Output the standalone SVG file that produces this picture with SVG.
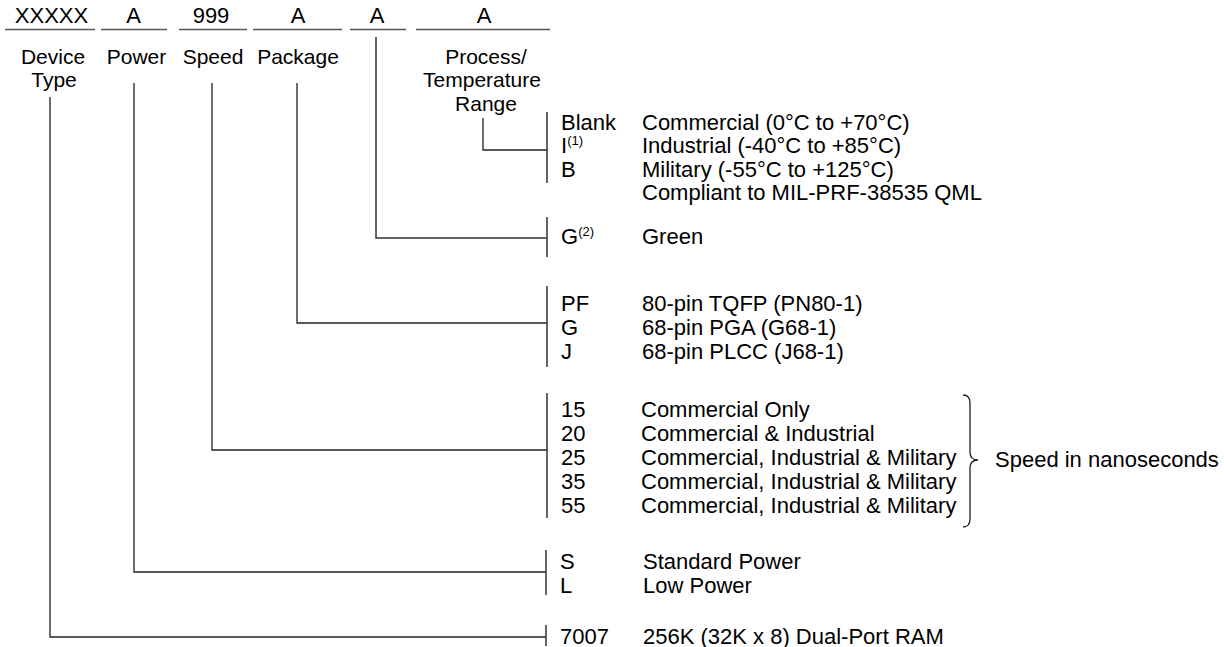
<svg xmlns="http://www.w3.org/2000/svg" width="1224" height="647" viewBox="0 0 1224 647">
<style>
text{font-family:"Liberation Sans",Arial,sans-serif;font-size:22px;fill:#000}
.c{text-anchor:middle}
.lb{font-size:21px}
.sup{font-size:13px}
.ul{stroke:#555;stroke-width:1.6;fill:none}
.ln{stroke:#222;stroke-width:1.3;fill:none}
.bar{stroke:#333;stroke-width:1.5;fill:none}
</style>
<rect width="1224" height="647" fill="#fff"/>
<g id="header">
<line class="ul" x1="5" y1="29.5" x2="95" y2="29.5"/>
<line class="ul" x1="101" y1="29.5" x2="167" y2="29.5"/>
<line class="ul" x1="179" y1="29.5" x2="247" y2="29.5"/>
<line class="ul" x1="253" y1="29.5" x2="342" y2="29.5"/>
<line class="ul" x1="350" y1="29.5" x2="406" y2="29.5"/>
<line class="ul" x1="416" y1="29.5" x2="550" y2="29.5"/>
<text class="c" x="51.5" y="23">XXXXX</text>
<text class="c" x="133.5" y="23">A</text>
<text class="c" x="211" y="23">999</text>
<text class="c" x="298" y="23">A</text>
<text class="c" x="377" y="23">A</text>
<text class="c" x="484" y="23">A</text>
</g>
<g id="label-device"><text class="c lb" x="53" y="63.5">Device</text><text class="c lb" x="54" y="87">Type</text></g>
<g id="label-power"><text class="c lb" x="136.5" y="63.5">Power</text></g>
<g id="label-speed"><text class="c lb" x="213" y="63.5">Speed</text></g>
<g id="label-package"><text class="c lb" x="298" y="63.5">Package</text></g>
<g id="label-process"><text class="c lb" x="486" y="63.5">Process/</text><text class="c lb" x="482" y="87">Temperature</text><text class="c lb" x="486" y="110.5">Range</text></g>
<g id="connectors">
<polyline class="ln" points="483,118 483,150 547,150"/>
<polyline class="bar" points="376,37 376,238 547,238"/>
<polyline class="ln" points="297,83 297,323 547,323"/>
<polyline class="ln" points="212,83 212,450 547,450"/>
<polyline class="ln" points="134,83 134,572 546,572"/>
<polyline class="ln" points="50,97 50,637 546,637"/>
</g>
<g id="opt-process">
<line class="bar" x1="547" y1="112" x2="547" y2="183"/>
<text x="561" y="130">Blank</text>
<text x="561" y="153">I<tspan class="sup" dy="-8">(1)</tspan></text>
<text x="561" y="177">B</text>
<text x="642" y="130">Commercial (0°C to +70°C)</text>
<text x="642" y="153">Industrial (-40°C to +85°C)</text>
<text x="642" y="177">Military (-55°C to +125°C)</text>
<text x="642" y="200">Compliant to MIL-PRF-38535 QML</text>
</g>
<g id="opt-green">
<line class="bar" x1="547" y1="217" x2="547" y2="257"/>
<text x="561" y="244">G<tspan class="sup" dy="-8">(2)</tspan></text>
<text x="642" y="244">Green</text>
</g>
<g id="opt-package">
<line class="bar" x1="547" y1="286" x2="547" y2="367"/>
<text x="561" y="311">PF</text>
<text x="561" y="335">G</text>
<text x="561" y="358.5">J</text>
<text x="642" y="311">80-pin TQFP (PN80-1)</text>
<text x="642" y="335">68-pin PGA (G68-1)</text>
<text x="642" y="358.5">68-pin PLCC (J68-1)</text>
</g>
<g id="opt-speed">
<line class="bar" x1="547" y1="393" x2="547" y2="518"/>
<text x="561" y="417">15</text>
<text x="561" y="441">20</text>
<text x="561" y="465">25</text>
<text x="561" y="489">35</text>
<text x="561" y="513">55</text>
<text x="641" y="417">Commercial Only</text>
<text x="641" y="441">Commercial &amp; Industrial</text>
<text x="641" y="465">Commercial, Industrial &amp; Military</text>
<text x="641" y="489">Commercial, Industrial &amp; Military</text>
<text x="641" y="513">Commercial, Industrial &amp; Military</text>
<path class="ln" d="M963,395 Q970,395 970,403 L970,452 Q970,460 978,460 Q970,460 970,468 L970,519 Q970,527 963,527"/>
<text x="995" y="467">Speed in nanoseconds</text>
</g>
<g id="opt-power">
<line class="bar" x1="546" y1="550" x2="546" y2="595"/>
<text x="560" y="568.5">S</text>
<text x="560" y="592.5">L</text>
<text x="643" y="568.5">Standard Power</text>
<text x="643" y="592.5">Low Power</text>
</g>
<g id="opt-device">
<line class="bar" x1="546" y1="625" x2="546" y2="646"/>
<text x="560" y="644">7007</text>
<text x="643" y="644">256K (32K x 8) Dual-Port RAM</text>
</g>
</svg>
